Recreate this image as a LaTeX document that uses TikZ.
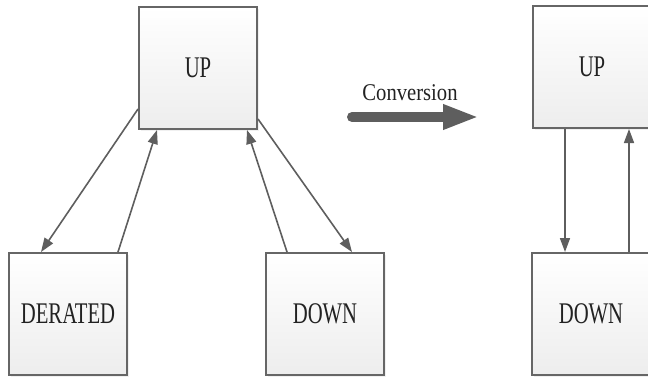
\documentclass[tikz,border=0pt]{standalone}
\usepackage{fontspec}
\setmainfont{Liberation Serif}
\newfontfamily\boxfont[FakeStretch=0.69]{Liberation Serif}
\newfontfamily\convfont[FakeStretch=0.86]{Liberation Serif}
\usepackage{xcolor}
\usetikzlibrary{arrows.meta,shadows}
\definecolor{edgegray}{HTML}{666666}
\definecolor{arrowgray}{HTML}{5E5E5E}
\definecolor{textdark}{HTML}{222222}
\tikzset{
  statebox/.style={
    draw=edgegray,
    line width=2pt,
    top color=white,
    bottom color=black!7,
    minimum width=118pt,
    minimum height=122pt,
    inner sep=0pt,
    text=textdark,
    drop shadow={opacity=0.12,shadow xshift=2pt,shadow yshift=-2pt},
    font=\boxfont\fontsize{30}{32}\selectfont
  },
  moveflow/.style={-{Triangle[length=14pt,width=10pt]},line width=1.6pt,draw=arrowgray},
  convflow/.style={
    -{Triangle[length=36pt,width=23pt]},
    line width=10pt,
    line cap=round,
    draw=arrowgray
  }
}
\begin{document}
\begin{tikzpicture}[x=1pt,y=-1pt]
  \useasboundingbox (0,0) rectangle (648,378);
  % three states before
  \node[statebox] (up) at (198,68) {UP};
  \node[statebox] (derated) at (68,314) {DERATED};
  \node[statebox] (down) at (325,314) {DOWN};
  % two states after
  \node[statebox] (upnew) at (592,67) {UP};
  \node[statebox] (downnew) at (591,314) {DOWN};
  \draw[moveflow] ([yshift=21pt]up.south west) -- ([xshift=-27pt]derated.north);
  \draw[moveflow] ([xshift=-10pt]derated.north east) -- ([xshift=19pt]up.south west);
  \draw[moveflow] ([yshift=11pt]up.south east) -- ([xshift=-33pt]down.north east);
  \draw[moveflow] ([xshift=22pt]down.north west) -- ([xshift=-11pt]up.south east);
  \draw[moveflow] ([xshift=33pt]upnew.south west) -- ([xshift=34pt]downnew.north west);
  \draw[moveflow] ([xshift=98pt]downnew.north west) -- ([xshift=97pt]upnew.south west);
  % conversion arrow
  \coordinate (convstart) at (352,117);
  \coordinate (convend) at (479,117);
  \node[font=\convfont\fontsize{24}{26}\selectfont,text=textdark,anchor=base] (convlabel) at (410,100) {Conversion};
  \draw[convflow] (convstart) -- (convend);
\end{tikzpicture}
\end{document}
